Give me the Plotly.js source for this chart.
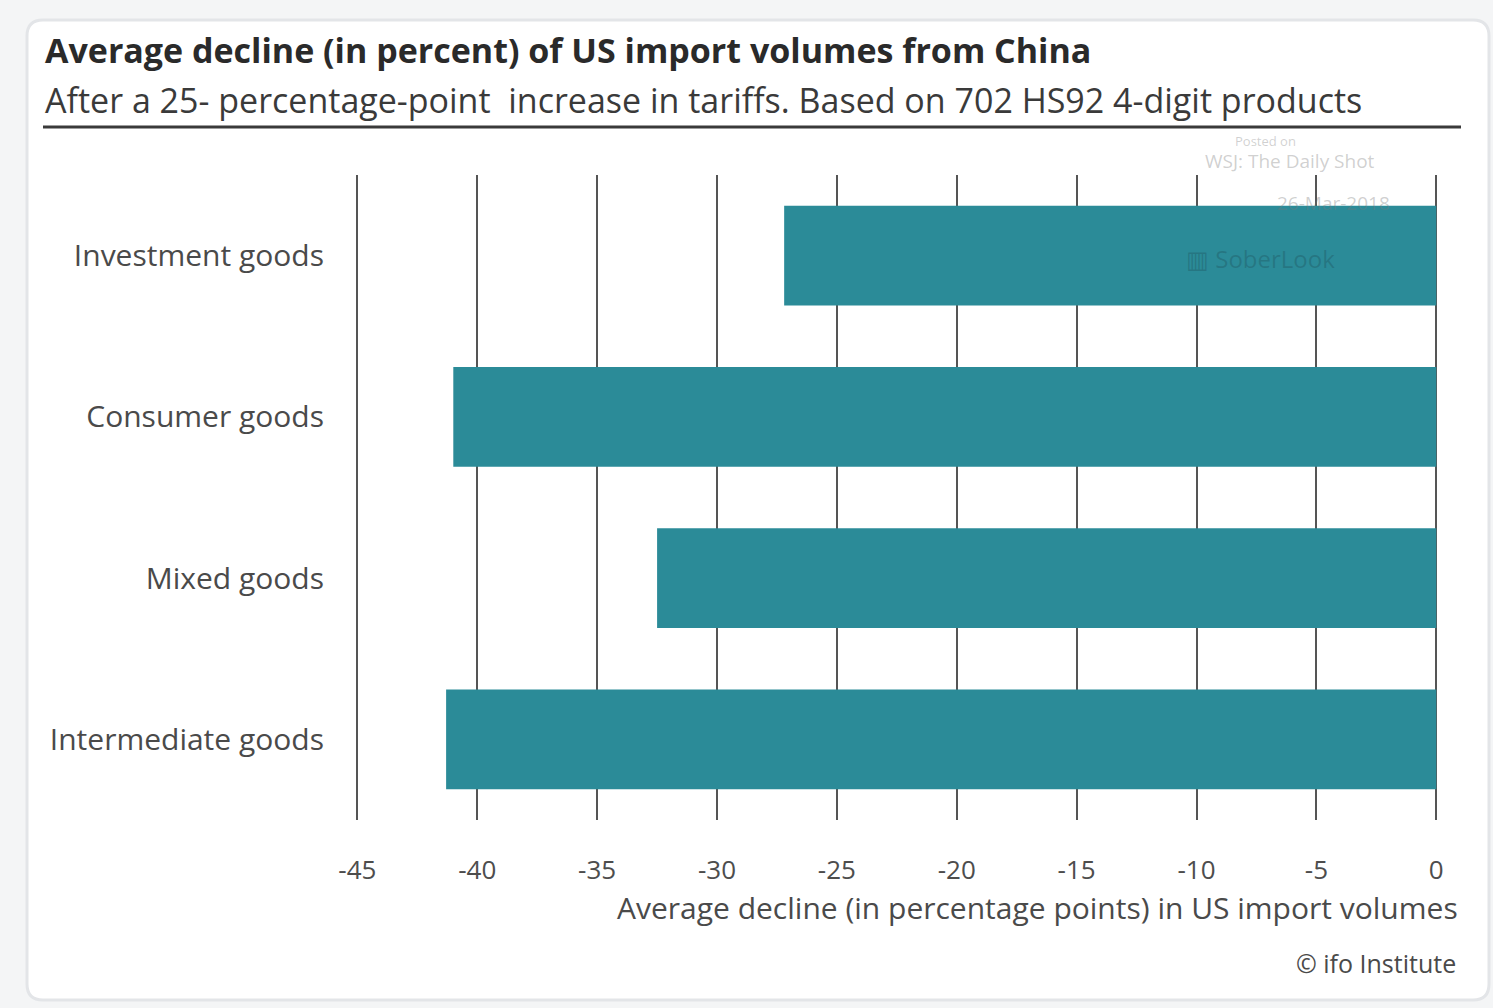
<!DOCTYPE html>
<html>
<head>
<meta charset="utf-8">
<script src="https://cdn.plot.ly/plotly-3.0.1.min.js"></script>
<style>html,body{margin:0;padding:0;background:#f4f5f6;}#chart{width:1493px;height:1008px;}</style>
</head>
<body>
<div id="chart"></div>
<script>
var categories = ["Investment goods", "Consumer goods", "Mixed goods", "Intermediate goods"];
var declines = [-27.2, -41.0, -32.5, -41.3];
var tickValues = [-45, -40, -35, -30, -25, -20, -15, -10, -5, 0];
var tickLabels = ["-45", "-40", "-35", "-30", "-25", "-20", "-15", "-10", "-5", "0"];

var W = 1493, H = 1008;
var L = 355, R = 1437, T = 175, B = 820;
function px(x) { return (x - L) / (R - L); }
function py(y) { return (B - y) / (B - T); }

var FONT = "'Open Sans', Lato, sans-serif";

function framePath(x0, y0, x1, y1, r) {
  return "M" + px(x0 + r) + "," + py(y0) +
    " L" + px(x1 - r) + "," + py(y0) +
    " Q" + px(x1) + "," + py(y0) + " " + px(x1) + "," + py(y0 + r) +
    " L" + px(x1) + "," + py(y1 - r) +
    " Q" + px(x1) + "," + py(y1) + " " + px(x1 - r) + "," + py(y1) +
    " L" + px(x0 + r) + "," + py(y1) +
    " Q" + px(x0) + "," + py(y1) + " " + px(x0) + "," + py(y1 - r) +
    " L" + px(x0) + "," + py(y0 + r) +
    " Q" + px(x0) + "," + py(y0) + " " + px(x0 + r) + "," + py(y0) + " Z";
}

var trace = {
  type: "bar",
  orientation: "h",
  y: categories,
  x: declines,
  marker: { color: "#2b8b98", line: { width: 0 } },
  width: 0.62,
  hoverinfo: "x+y"
};

var layout = {
  width: W, height: H,
  margin: { l: L, r: W - R, t: T, b: H - B, pad: 0 },
  paper_bgcolor: "#f4f5f6",
  plot_bgcolor: "rgba(0,0,0,0)",
  showlegend: false,
  font: { family: FONT, color: "#4a4a4a" },
  xaxis: {
    range: [-45.1, 0.03],
    tickmode: "array",
    tickvals: tickValues,
    ticktext: tickLabels,
    showgrid: true,
    gridcolor: "#555555",
    gridwidth: 2,
    zeroline: true,
    zerolinecolor: "#555555",
    zerolinewidth: 2,
    showline: false,
    ticks: "",
    ticklabelstandoff: 32,
    tickfont: { family: FONT, size: 26, color: "#4d4d4d" },
    fixedrange: true
  },
  yaxis: {
    autorange: "reversed",
    showgrid: false,
    zeroline: false,
    showline: false,
    ticks: "",
    ticklabelstandoff: 30,
    tickfont: { family: FONT, size: 30, color: "#4a4a4a" },
    fixedrange: true
  },
  shapes: [
    {
      type: "path", xref: "paper", yref: "paper", layer: "below",
      path: framePath(27, 20, 1489, 1000, 16),
      fillcolor: "#ffffff",
      line: { color: "#e3e5e8", width: 3 }
    },
    {
      type: "line", xref: "paper", yref: "paper", layer: "above",
      x0: px(43), x1: px(1461), y0: py(127), y1: py(127),
      line: { color: "#3a3a3a", width: 3 }
    }
  ],
  annotations: [
    {
      xref: "paper", yref: "paper", x: px(43), y: py(50),
      xanchor: "left", yanchor: "middle", showarrow: false,
      text: "<b>Average decline (in percent) of US import volumes from China</b>",
      font: { family: FONT, size: 34, color: "#2a2a2a" }
    },
    {
      xref: "paper", yref: "paper", x: px(43), y: py(100),
      xanchor: "left", yanchor: "middle", showarrow: false,
      text: "After a 25- percentage-point  increase in tariffs. Based on 702 HS92 4-digit products",
      font: { family: FONT, size: 34, color: "#3a3a3a" }
    },
    {
      xref: "paper", yref: "paper", x: px(1460), y: py(908),
      xanchor: "right", yanchor: "middle", showarrow: false,
      text: "Average decline (in percentage points) in US import volumes",
      font: { family: FONT, size: 30, color: "#4a4a4a" }
    },
    {
      xref: "paper", yref: "paper", x: px(1458), y: py(963),
      xanchor: "right", yanchor: "middle", showarrow: false,
      text: "© ifo Institute",
      font: { family: FONT, size: 25, color: "#4a4a4a" }
    },
    {
      xref: "paper", yref: "paper", x: px(1265), y: py(141),
      xanchor: "center", yanchor: "middle", showarrow: false,
      text: "Posted on",
      font: { family: FONT, size: 13, color: "rgba(120,120,120,0.35)" }
    },
    {
      xref: "paper", yref: "paper", x: px(1290), y: py(161),
      xanchor: "center", yanchor: "middle", showarrow: false,
      text: "WSJ: The Daily Shot",
      font: { family: FONT, size: 19, color: "rgba(150,150,150,0.45)" }
    },
    {
      xref: "paper", yref: "paper", x: px(1333), y: py(203),
      xanchor: "center", yanchor: "middle", showarrow: false,
      text: "26-Mar-2018",
      font: { family: FONT, size: 19, color: "rgba(120,120,120,0.35)" }
    },
    {
      xref: "paper", yref: "paper", x: px(1260), y: py(258),
      xanchor: "center", yanchor: "middle", showarrow: false,
      text: "▥ SoberLook",
      font: { family: FONT, size: 24, color: "rgba(30,80,90,0.35)" }
    }
  ]
};

Plotly.newPlot("chart", [trace], layout, { displayModeBar: false, staticPlot: true });
</script>
</body>
</html>
